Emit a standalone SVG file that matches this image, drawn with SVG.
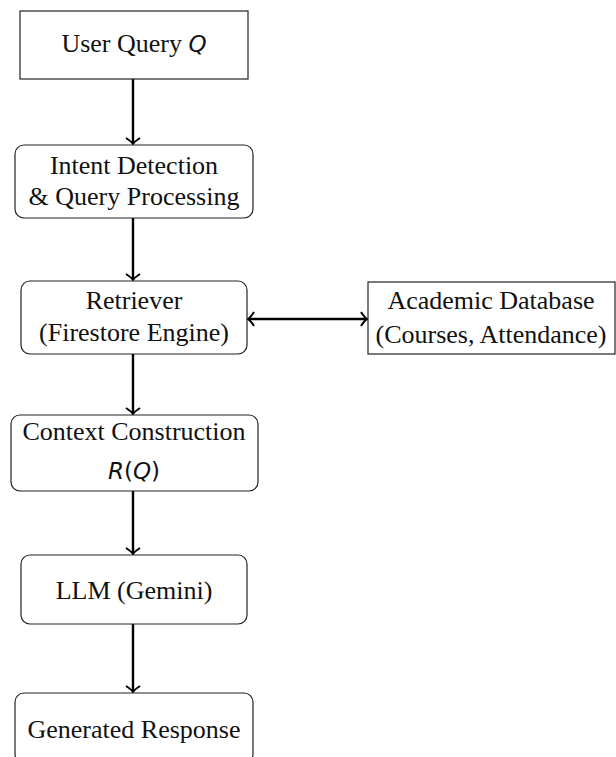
<svg xmlns="http://www.w3.org/2000/svg" width="616" height="757" viewBox="0 0 616 757">
<defs>
<style>
.box{fill:#fff;stroke:#222;stroke-width:1.2}
.t{font-family:"Liberation Serif","Times New Roman",serif;font-size:26px;fill:#111;text-anchor:middle}
.m{font-family:"DejaVu Sans","Liberation Sans",sans-serif;font-style:italic;font-size:23px}
.mu{font-family:"DejaVu Sans","Liberation Sans",sans-serif;font-size:23px}
.c{stroke:#000;stroke-width:2.4;fill:none}
</style>
<marker id="ah" markerUnits="userSpaceOnUse" markerWidth="20" markerHeight="20" refX="0" refY="0" viewBox="-10 -10 20 20" orient="auto-start-reverse" overflow="visible">
<path d="M-6,-7 Q-2,-1 0,0 Q-2,1 -6,7" fill="none" stroke="#000" stroke-width="2"/>
</marker>
</defs>
<g id="connectors">
<line class="c" x1="133" y1="79" x2="133" y2="144" marker-end="url(#ah)"/>
<line class="c" x1="133" y1="218" x2="133" y2="280" marker-end="url(#ah)"/>
<line class="c" x1="133" y1="354" x2="133" y2="414" marker-end="url(#ah)"/>
<line class="c" x1="133" y1="491" x2="133" y2="554" marker-end="url(#ah)"/>
<line class="c" x1="133" y1="624" x2="133" y2="692" marker-end="url(#ah)"/>
<line class="c" x1="248" y1="319" x2="367" y2="319" marker-start="url(#ah)" marker-end="url(#ah)"/>
</g>
<g id="user-query">
<rect class="box" x="20" y="11" width="228" height="68"/>
<text class="t" x="134" y="52">User Query <tspan class="m">Q</tspan></text>
</g>
<g id="intent-detection">
<rect class="box" x="15" y="145" width="238" height="73" rx="9"/>
<text class="t" x="134" y="174">Intent Detection</text>
<text class="t" x="134" y="205">&amp; Query Processing</text>
</g>
<g id="retriever">
<rect class="box" x="21" y="281" width="226" height="73" rx="9"/>
<text class="t" x="134" y="309">Retriever</text>
<text class="t" x="134" y="341">(Firestore Engine)</text>
</g>
<g id="academic-db">
<rect class="box" x="368" y="282" width="247" height="72"/>
<text class="t" x="491" y="309">Academic Database</text>
<text class="t" x="491" y="343">(Courses, Attendance)</text>
</g>
<g id="context-construction">
<rect class="box" x="11" y="415" width="247" height="76" rx="9"/>
<text class="t" x="134" y="440">Context Construction</text>
<text class="t" x="134" y="479"><tspan class="m">R</tspan><tspan class="mu">(</tspan><tspan class="m">Q</tspan><tspan class="mu">)</tspan></text>
</g>
<g id="llm">
<rect class="box" x="21" y="555" width="226" height="69" rx="9"/>
<text class="t" x="134" y="599">LLM (Gemini)</text>
</g>
<g id="generated-response">
<rect class="box" x="15" y="693" width="238" height="70" rx="9"/>
<text class="t" x="134" y="738">Generated Response</text>
</g>
</svg>
